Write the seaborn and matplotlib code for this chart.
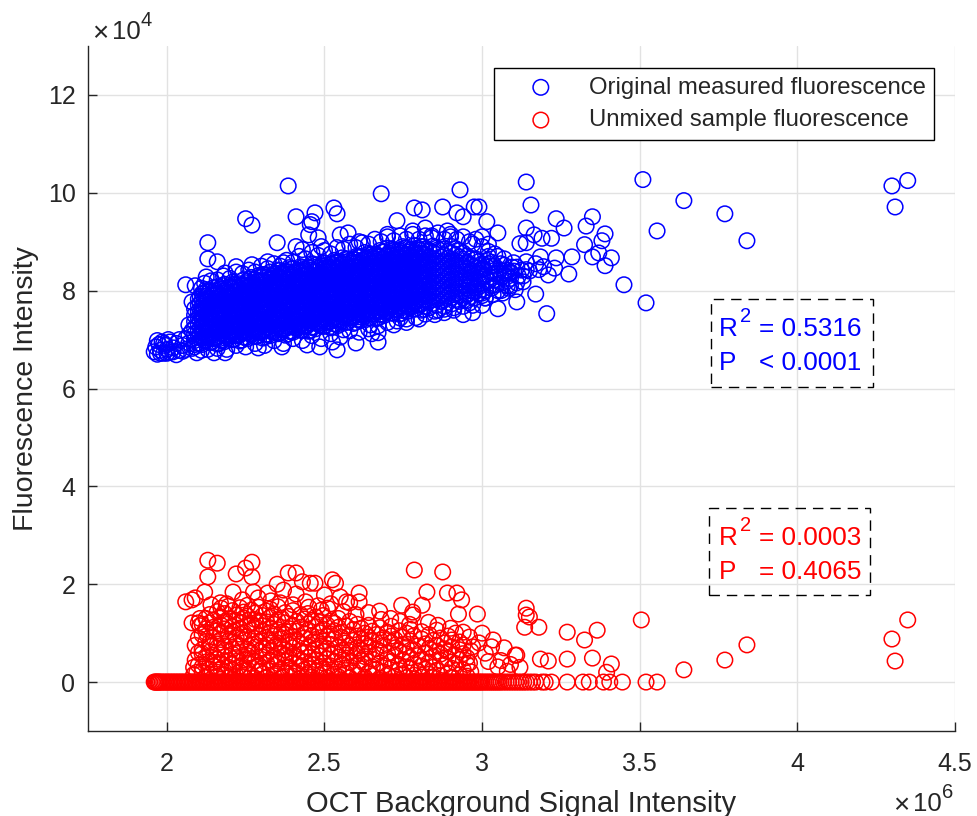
import matplotlib
matplotlib.use("Agg")
import matplotlib.pyplot as plt
import seaborn as sns
from matplotlib.patches import Rectangle

# x in units of 1e6, y in units of 1e4
blue_sparse_x = [
    4.35, 4.30, 4.31, 3.84, 3.77, 3.64, 3.51, 3.555, 3.52, 3.45,
    3.14, 3.155, 3.235, 3.26, 3.35, 3.33, 3.39, 3.38, 3.325, 3.37,
    3.35, 3.41, 3.39, 3.285, 3.235, 3.275, 3.205, 3.17, 3.11, 3.05,
    3.14, 3.165, 3.19, 3.22, 3.12, 3.14, 3.185, 3.195, 3.21, 3.23,
    3.18, 3.14, 3.14, 3.10, 3.09, 3.11, 3.13, 3.06, 3.015, 3.05,
    2.99, 2.385, 2.68, 2.93, 2.25, 2.27, 2.13, 2.13, 2.16, 2.53,
    2.54, 2.47, 2.41, 2.46, 2.455, 2.785, 2.81, 2.875, 2.975, 2.92,
    2.94, 2.73, 2.82, 2.89, 2.35, 2.45, 2.575, 2.55, 2.61, 2.41,
    2.43, 2.48, 2.49, 2.06, 2.09, 2.125, 2.22, 2.27, 2.32, 2.37,
    2.185, 2.60, 2.67, 2.67, 2.54, 2.485, 2.445, 2.525, 2.365, 2.29,
    2.185, 2.15, 2.095, 2.03, 2.94, 2.97, 2.88, 2.85, 2.74, 2.645,
    2.56, 2.08, 2.07, 2.95, 2.96, 2.97, 2.98, 3.00, 3.01, 3.02,
    3.03, 3.04, 3.06, 3.07, 3.08, 2.96, 2.98, 3.00, 3.02, 3.04,
    2.95, 2.97, 2.99, 3.01, 3.03, 3.05, 3.07, 3.09, 3.00, 3.02,
    2.65, 2.72, 2.76, 2.80, 2.86, 2.91, 2.70, 2.78, 2.84, 2.90,
    1.96, 1.965, 1.97, 1.975, 1.98, 1.985, 1.99, 1.995, 2.00, 2.005,
    2.01, 2.02, 2.03, 2.04, 2.05, 2.06, 2.07, 2.08, 1.97, 1.98,
    1.99, 2.00, 2.01, 2.02, 2.04, 2.05, 2.06, 2.07, 2.08, 2.09,
]
blue_sparse_y = [
    10.25, 10.14, 9.71, 9.02, 9.57, 9.84, 10.27, 9.22, 7.75, 8.12,
    10.22, 9.75, 9.47, 9.28, 9.51, 9.32, 9.16, 9.02, 8.94, 8.77,
    8.69, 8.67, 8.51, 8.69, 8.67, 8.34, 7.53, 7.93, 7.77, 7.63,
    9.28, 9.14, 9.07, 9.07, 8.96, 8.98, 8.69, 8.49, 8.32, 8.46,
    8.43, 8.59, 8.43, 8.57, 8.36, 8.16, 8.18, 8.28, 9.41, 9.18,
    9.71, 10.14, 9.98, 10.06, 9.47, 9.34, 8.98, 8.65, 8.59, 9.69,
    9.57, 9.59, 9.51, 9.41, 9.35, 9.69, 9.65, 9.71, 9.71, 9.59,
    9.51, 9.43, 9.28, 9.22, 8.98, 9.14, 9.18, 9.14, 9.00, 8.90,
    8.84, 9.08, 8.90, 8.12, 8.10, 8.28, 8.49, 8.53, 8.59, 8.57,
    8.36, 6.93, 6.95, 7.14, 6.79, 6.85, 6.89, 6.95, 6.85, 6.83,
    6.73, 6.73, 6.73, 6.69, 7.51, 7.55, 7.55, 7.51, 7.44, 7.30,
    7.20, 7.77, 7.30, 7.90, 8.15, 8.40, 8.65, 7.95, 8.30, 8.55,
    8.05, 8.75, 8.00, 8.40, 8.20, 7.75, 8.05, 8.45, 8.80, 8.35,
    8.55, 8.95, 8.20, 7.85, 8.50, 8.70, 8.65, 8.10, 9.10, 8.95,
    7.12, 7.30, 7.35, 7.42, 7.60, 7.65, 9.15, 9.22, 9.12, 9.10,
    6.75, 6.85, 6.70, 6.90, 6.78, 6.95, 6.72, 6.88, 6.80, 7.00,
    6.74, 6.83, 6.92, 6.78, 6.88, 6.80, 6.93, 6.82, 6.98, 6.72,
    6.92, 6.72, 6.95, 6.75, 7.00, 6.76, 7.02, 7.10, 7.18, 6.90,
]
blue_edge_x = [
    2.11, 2.12, 2.14, 2.16, 2.18, 2.20, 2.22, 2.24, 2.26, 2.28, 2.30, 2.32, 2.34, 2.36, 2.38, 2.40,
    2.42, 2.44, 2.46, 2.48, 2.50, 2.52, 2.54, 2.56, 2.58, 2.60, 2.62, 2.64, 2.66, 2.68, 2.70, 2.72,
    2.74, 2.76, 2.78, 2.80, 2.82, 2.84, 2.86, 2.88, 2.90, 2.92, 2.94, 2.96, 2.98, 3.00,
    2.11, 2.13, 2.16, 2.19, 2.22, 2.25, 2.28, 2.31, 2.34, 2.37, 2.40, 2.43, 2.46, 2.49, 2.52, 2.55,
    2.58, 2.61, 2.64, 2.67, 2.70, 2.73, 2.76, 2.79, 2.82, 2.85, 2.88, 2.91, 2.94, 2.97, 3.00,
    3.01, 3.02, 3.03, 3.04, 3.05, 3.06, 3.07, 3.08, 3.09, 3.10, 3.04, 3.06,
    3.005, 3.015, 3.025, 3.035, 3.045, 3.055, 3.065, 3.075, 3.085, 3.095, 3.105, 3.115, 3.125,
    3.01, 3.03, 3.05, 3.07, 3.09, 3.11, 3.13, 3.15, 3.17, 3.02, 3.04, 3.08,
]
blue_edge_y = [
    8.05, 8.15, 8.20, 8.22, 8.30, 8.25, 8.38, 8.35, 8.42, 8.38, 8.50, 8.45, 8.55, 8.50, 8.62, 8.58,
    8.70, 8.65, 8.78, 8.72, 8.82, 8.75, 8.88, 8.85, 8.95, 8.88, 8.98, 8.95, 9.05, 9.00, 9.10, 9.02,
    9.12, 9.05, 9.15, 9.05, 9.12, 9.08, 9.18, 9.05, 9.15, 9.05, 9.10, 9.00, 9.05, 8.90,
    6.78, 6.80, 6.82, 6.80, 6.88, 6.85, 6.92, 6.88, 6.98, 6.92, 7.02, 6.98, 7.08, 7.02, 7.12, 7.05,
    7.18, 7.15, 7.22, 7.28, 7.35, 7.38, 7.42, 7.45, 7.52, 7.58, 7.62, 7.60, 7.68, 7.70, 7.70,
    8.00, 8.20, 8.10, 8.35, 8.00, 8.15, 8.30, 8.10, 8.25, 8.40, 8.50, 8.55,
    8.45, 8.62, 8.28, 7.92, 8.12, 8.42, 7.95, 8.36, 8.05, 8.48, 8.02, 8.30, 8.42,
    7.85, 8.58, 8.35, 8.52, 8.38, 8.48, 8.30, 8.40, 8.55, 8.70, 8.22, 8.42,
]

# dense band: one x per column, the y values read in that column
blue_col_x = [
    2.088, 2.100, 2.112, 2.124, 2.136, 2.148, 2.160, 2.172, 2.184, 2.196, 2.208, 2.220, 2.232,
    2.244, 2.256, 2.268, 2.280, 2.292, 2.304, 2.316, 2.328, 2.340, 2.352, 2.364, 2.376, 2.388,
    2.400, 2.412, 2.424, 2.436, 2.448, 2.460, 2.472, 2.484, 2.496, 2.508, 2.520, 2.532, 2.544,
    2.556, 2.568, 2.580, 2.592, 2.604, 2.616, 2.628, 2.640, 2.652, 2.664, 2.676, 2.688, 2.700,
    2.712, 2.724, 2.736, 2.748, 2.760, 2.772, 2.784, 2.796, 2.808, 2.820, 2.832, 2.844, 2.856,
    2.868, 2.880, 2.892, 2.904, 2.916, 2.928, 2.940, 2.952, 2.964, 2.976, 2.988, 3.000,
]
blue_col_y = [
    [6.85, 6.98, 7.11, 7.24, 7.37, 7.50, 7.63],
    [6.92, 7.05, 7.18, 7.31, 7.44, 7.57, 7.70, 7.83],
    [6.90, 7.03, 7.16, 7.29, 7.42, 7.55, 7.68, 7.81, 7.94],
    [6.98, 7.11, 7.24, 7.37, 7.50, 7.63, 7.76, 7.89, 8.02],
    [6.94, 7.07, 7.20, 7.33, 7.46, 7.59, 7.72, 7.85, 7.98],
    [7.02, 7.15, 7.28, 7.41, 7.54, 7.67, 7.80, 7.93, 8.06],
    [6.91, 7.04, 7.17, 7.30, 7.43, 7.56, 7.69, 7.82, 7.95, 8.08],
    [6.99, 7.12, 7.25, 7.38, 7.51, 7.64, 7.77, 7.90, 8.03],
    [6.96, 7.09, 7.22, 7.35, 7.48, 7.61, 7.74, 7.87, 8.00, 8.13],
    [7.04, 7.17, 7.30, 7.43, 7.56, 7.69, 7.82, 7.95, 8.08],
    [7.00, 7.13, 7.26, 7.39, 7.52, 7.65, 7.78, 7.91, 8.04, 8.17],
    [7.08, 7.21, 7.34, 7.47, 7.60, 7.73, 7.86, 7.99, 8.12],
    [6.97, 7.10, 7.23, 7.36, 7.49, 7.62, 7.75, 7.88, 8.01, 8.14],
    [7.05, 7.18, 7.31, 7.44, 7.57, 7.70, 7.83, 7.96, 8.09, 8.22],
    [7.02, 7.15, 7.28, 7.41, 7.54, 7.67, 7.80, 7.93, 8.06, 8.19],
    [7.10, 7.23, 7.36, 7.49, 7.62, 7.75, 7.88, 8.01, 8.14, 8.27],
    [7.06, 7.19, 7.32, 7.45, 7.58, 7.71, 7.84, 7.97, 8.10, 8.23],
    [7.14, 7.27, 7.40, 7.53, 7.66, 7.79, 7.92, 8.05, 8.18, 8.31],
    [7.03, 7.16, 7.29, 7.42, 7.55, 7.68, 7.81, 7.94, 8.07, 8.20, 8.33],
    [7.11, 7.24, 7.37, 7.50, 7.63, 7.76, 7.89, 8.02, 8.15, 8.28],
    [7.08, 7.21, 7.34, 7.47, 7.60, 7.73, 7.86, 7.99, 8.12, 8.25, 8.38],
    [7.16, 7.29, 7.42, 7.55, 7.68, 7.81, 7.94, 8.07, 8.20, 8.33],
    [7.12, 7.25, 7.38, 7.51, 7.64, 7.77, 7.90, 8.03, 8.16, 8.29, 8.42],
    [7.20, 7.33, 7.46, 7.59, 7.72, 7.85, 7.98, 8.11, 8.24, 8.37],
    [7.09, 7.22, 7.35, 7.48, 7.61, 7.74, 7.87, 8.00, 8.13, 8.26, 8.39],
    [7.17, 7.30, 7.43, 7.56, 7.69, 7.82, 7.95, 8.08, 8.21, 8.34, 8.47],
    [7.15, 7.28, 7.41, 7.54, 7.67, 7.80, 7.93, 8.06, 8.19, 8.32, 8.45],
    [7.23, 7.36, 7.49, 7.62, 7.75, 7.88, 8.01, 8.14, 8.27, 8.40],
    [7.19, 7.32, 7.45, 7.58, 7.71, 7.84, 7.97, 8.10, 8.23, 8.36, 8.49],
    [7.27, 7.40, 7.53, 7.66, 7.79, 7.92, 8.05, 8.18, 8.31, 8.44],
    [7.17, 7.30, 7.43, 7.56, 7.69, 7.82, 7.95, 8.08, 8.21, 8.34, 8.47],
    [7.25, 7.38, 7.51, 7.64, 7.77, 7.90, 8.03, 8.16, 8.29, 8.42, 8.55],
    [7.22, 7.35, 7.48, 7.61, 7.74, 7.87, 8.00, 8.13, 8.26, 8.39, 8.52],
    [7.30, 7.43, 7.56, 7.69, 7.82, 7.95, 8.08, 8.21, 8.34, 8.47],
    [7.27, 7.40, 7.53, 7.66, 7.79, 7.92, 8.05, 8.18, 8.31, 8.44, 8.57],
    [7.35, 7.48, 7.61, 7.74, 7.87, 8.00, 8.13, 8.26, 8.39, 8.52],
    [7.24, 7.37, 7.50, 7.63, 7.76, 7.89, 8.02, 8.15, 8.28, 8.41, 8.54],
    [7.32, 7.45, 7.58, 7.71, 7.84, 7.97, 8.10, 8.23, 8.36, 8.49, 8.62],
    [7.29, 7.42, 7.55, 7.68, 7.81, 7.94, 8.07, 8.20, 8.33, 8.46, 8.59],
    [7.37, 7.50, 7.63, 7.76, 7.89, 8.02, 8.15, 8.28, 8.41, 8.54, 8.67],
    [7.35, 7.48, 7.61, 7.74, 7.87, 8.00, 8.13, 8.26, 8.39, 8.52, 8.65],
    [7.44, 7.57, 7.70, 7.83, 7.96, 8.09, 8.22, 8.35, 8.48, 8.61],
    [7.33, 7.46, 7.59, 7.72, 7.85, 7.98, 8.11, 8.24, 8.37, 8.50, 8.63],
    [7.41, 7.54, 7.67, 7.80, 7.93, 8.06, 8.19, 8.32, 8.45, 8.58, 8.71],
    [7.39, 7.52, 7.65, 7.78, 7.91, 8.04, 8.17, 8.30, 8.43, 8.56, 8.69],
    [7.48, 7.61, 7.74, 7.87, 8.00, 8.13, 8.26, 8.39, 8.52, 8.65, 8.78],
    [7.44, 7.57, 7.70, 7.83, 7.96, 8.09, 8.22, 8.35, 8.48, 8.61, 8.74],
    [7.53, 7.66, 7.79, 7.92, 8.05, 8.18, 8.31, 8.44, 8.57, 8.70],
    [7.43, 7.56, 7.69, 7.82, 7.95, 8.08, 8.21, 8.34, 8.47, 8.60, 8.73],
    [7.52, 7.65, 7.78, 7.91, 8.04, 8.17, 8.30, 8.43, 8.56, 8.69, 8.82],
    [7.49, 7.62, 7.75, 7.88, 8.01, 8.14, 8.27, 8.40, 8.53, 8.66, 8.79],
    [7.57, 7.70, 7.83, 7.96, 8.09, 8.22, 8.35, 8.48, 8.61, 8.74, 8.87],
    [7.54, 7.67, 7.80, 7.93, 8.06, 8.19, 8.32, 8.45, 8.58, 8.71, 8.84],
    [7.62, 7.75, 7.88, 8.01, 8.14, 8.27, 8.40, 8.53, 8.66, 8.79],
    [7.52, 7.65, 7.78, 7.91, 8.04, 8.17, 8.30, 8.43, 8.56, 8.69, 8.82],
    [7.60, 7.73, 7.86, 7.99, 8.12, 8.25, 8.38, 8.51, 8.64, 8.77, 8.90],
    [7.57, 7.70, 7.83, 7.96, 8.09, 8.22, 8.35, 8.48, 8.61, 8.74, 8.87],
    [7.66, 7.79, 7.92, 8.05, 8.18, 8.31, 8.44, 8.57, 8.70, 8.83],
    [7.62, 7.75, 7.88, 8.01, 8.14, 8.27, 8.40, 8.53, 8.66, 8.79, 8.92],
    [7.70, 7.83, 7.96, 8.09, 8.22, 8.35, 8.48, 8.61, 8.74, 8.87],
    [7.60, 7.73, 7.86, 7.99, 8.12, 8.25, 8.38, 8.51, 8.64, 8.77, 8.90],
    [7.68, 7.81, 7.94, 8.07, 8.20, 8.33, 8.46, 8.59, 8.72, 8.85],
    [7.65, 7.78, 7.91, 8.04, 8.17, 8.30, 8.43, 8.56, 8.69, 8.82],
    [7.74, 7.87, 8.00, 8.13, 8.26, 8.39, 8.52, 8.65, 8.78, 8.91],
    [7.70, 7.83, 7.96, 8.09, 8.22, 8.35, 8.48, 8.61, 8.74, 8.87],
    [7.78, 7.91, 8.04, 8.17, 8.30, 8.43, 8.56, 8.69, 8.82],
    [7.68, 7.81, 7.94, 8.07, 8.20, 8.33, 8.46, 8.59, 8.72, 8.85],
    [7.76, 7.89, 8.02, 8.15, 8.28, 8.41, 8.54, 8.67, 8.80],
    [7.73, 7.86, 7.99, 8.12, 8.25, 8.38, 8.51, 8.64, 8.77, 8.90],
    [7.82, 7.95, 8.08, 8.21, 8.34, 8.47, 8.60, 8.73, 8.86],
    [7.78, 7.91, 8.04, 8.17, 8.30, 8.43, 8.56, 8.69, 8.82],
    [7.86, 7.99, 8.12, 8.25, 8.38, 8.51, 8.64, 8.77],
    [7.80, 7.93, 8.06, 8.19, 8.32, 8.45, 8.58, 8.71],
    [7.88, 8.01, 8.14, 8.27, 8.40, 8.53, 8.66],
    [7.85, 7.98, 8.11, 8.24, 8.37, 8.50, 8.63],
    [7.94, 8.07, 8.20, 8.33, 8.46, 8.59],
    [7.90, 8.03, 8.16, 8.29, 8.42, 8.55],
]
# second pass through the band, between the columns above
blue_mid_x = [
    2.106, 2.118, 2.130, 2.142, 2.154, 2.166, 2.178, 2.190, 2.202, 2.214, 2.226, 2.238,
    2.250, 2.262, 2.274, 2.286, 2.298, 2.310, 2.322, 2.334, 2.346, 2.358, 2.370, 2.382,
    2.394, 2.406, 2.418, 2.430, 2.442, 2.454, 2.466, 2.478, 2.490, 2.502, 2.514, 2.526,
    2.538, 2.550, 2.562, 2.574, 2.586, 2.598, 2.610, 2.622, 2.634, 2.646, 2.658, 2.670,
    2.682, 2.694, 2.706, 2.718, 2.730, 2.742, 2.754, 2.766, 2.778, 2.790, 2.802, 2.814,
]
blue_mid_y = [
    [6.92, 7.08, 7.24, 7.40, 7.56, 7.72, 7.88],
    [6.99, 7.15, 7.31, 7.47, 7.63, 7.79, 7.95],
    [7.04, 7.20, 7.36, 7.52, 7.68, 7.84, 8.00],
    [6.95, 7.11, 7.27, 7.43, 7.59, 7.75, 7.91],
    [7.03, 7.19, 7.35, 7.51, 7.67, 7.83, 7.99],
    [6.92, 7.08, 7.24, 7.40, 7.56, 7.72, 7.88, 8.04],
    [6.98, 7.14, 7.30, 7.46, 7.62, 7.78, 7.94, 8.10],
    [7.06, 7.22, 7.38, 7.54, 7.70, 7.86, 8.02],
    [7.11, 7.27, 7.43, 7.59, 7.75, 7.91, 8.07],
    [7.01, 7.17, 7.33, 7.49, 7.65, 7.81, 7.97, 8.13],
    [7.09, 7.25, 7.41, 7.57, 7.73, 7.89, 8.05],
    [6.99, 7.15, 7.31, 7.47, 7.63, 7.79, 7.95, 8.11],
    [7.04, 7.20, 7.36, 7.52, 7.68, 7.84, 8.00, 8.16],
    [7.12, 7.28, 7.44, 7.60, 7.76, 7.92, 8.08, 8.24],
    [7.17, 7.33, 7.49, 7.65, 7.81, 7.97, 8.13],
    [7.07, 7.23, 7.39, 7.55, 7.71, 7.87, 8.03, 8.19],
    [7.15, 7.31, 7.47, 7.63, 7.79, 7.95, 8.11, 8.27],
    [7.05, 7.21, 7.37, 7.53, 7.69, 7.85, 8.01, 8.17, 8.33],
    [7.10, 7.26, 7.42, 7.58, 7.74, 7.90, 8.06, 8.22],
    [7.18, 7.34, 7.50, 7.66, 7.82, 7.98, 8.14, 8.30],
    [7.23, 7.39, 7.55, 7.71, 7.87, 8.03, 8.19, 8.35],
    [7.13, 7.29, 7.45, 7.61, 7.77, 7.93, 8.09, 8.25, 8.41],
    [7.21, 7.37, 7.53, 7.69, 7.85, 8.01, 8.17, 8.33],
    [7.11, 7.27, 7.43, 7.59, 7.75, 7.91, 8.07, 8.23, 8.39],
    [7.16, 7.32, 7.48, 7.64, 7.80, 7.96, 8.12, 8.28, 8.44],
    [7.24, 7.40, 7.56, 7.72, 7.88, 8.04, 8.20, 8.36],
    [7.29, 7.45, 7.61, 7.77, 7.93, 8.09, 8.25, 8.41],
    [7.19, 7.35, 7.51, 7.67, 7.83, 7.99, 8.15, 8.31, 8.47],
    [7.27, 7.43, 7.59, 7.75, 7.91, 8.07, 8.23, 8.39],
    [7.18, 7.34, 7.50, 7.66, 7.82, 7.98, 8.14, 8.30, 8.46],
    [7.26, 7.42, 7.58, 7.74, 7.90, 8.06, 8.22, 8.38, 8.54],
    [7.33, 7.49, 7.65, 7.81, 7.97, 8.13, 8.29, 8.45],
    [7.38, 7.54, 7.70, 7.86, 8.02, 8.18, 8.34, 8.50],
    [7.28, 7.44, 7.60, 7.76, 7.92, 8.08, 8.24, 8.40, 8.56],
    [7.36, 7.52, 7.68, 7.84, 8.00, 8.16, 8.32, 8.48],
    [7.26, 7.42, 7.58, 7.74, 7.90, 8.06, 8.22, 8.38, 8.54],
    [7.31, 7.47, 7.63, 7.79, 7.95, 8.11, 8.27, 8.43, 8.59],
    [7.39, 7.55, 7.71, 7.87, 8.03, 8.19, 8.35, 8.51],
    [7.46, 7.62, 7.78, 7.94, 8.10, 8.26, 8.42, 8.58],
    [7.36, 7.52, 7.68, 7.84, 8.00, 8.16, 8.32, 8.48, 8.64],
    [7.44, 7.60, 7.76, 7.92, 8.08, 8.24, 8.40, 8.56],
    [7.35, 7.51, 7.67, 7.83, 7.99, 8.15, 8.31, 8.47, 8.63],
    [7.41, 7.57, 7.73, 7.89, 8.05, 8.21, 8.37, 8.53, 8.69],
    [7.49, 7.65, 7.81, 7.97, 8.13, 8.29, 8.45, 8.61],
    [7.55, 7.71, 7.87, 8.03, 8.19, 8.35, 8.51, 8.67],
    [7.45, 7.61, 7.77, 7.93, 8.09, 8.25, 8.41, 8.57, 8.73],
    [7.53, 7.69, 7.85, 8.01, 8.17, 8.33, 8.49, 8.65],
    [7.44, 7.60, 7.76, 7.92, 8.08, 8.24, 8.40, 8.56, 8.72],
    [7.51, 7.67, 7.83, 7.99, 8.15, 8.31, 8.47, 8.63, 8.79],
    [7.58, 7.74, 7.90, 8.06, 8.22, 8.38, 8.54, 8.70],
    [7.64, 7.80, 7.96, 8.12, 8.28, 8.44, 8.60, 8.76],
    [7.54, 7.70, 7.86, 8.02, 8.18, 8.34, 8.50, 8.66, 8.82],
    [7.62, 7.78, 7.94, 8.10, 8.26, 8.42, 8.58, 8.74],
    [7.53, 7.69, 7.85, 8.01, 8.17, 8.33, 8.49, 8.65, 8.81],
    [7.59, 7.75, 7.91, 8.07, 8.23, 8.39, 8.55, 8.71, 8.87],
    [7.67, 7.83, 7.99, 8.15, 8.31, 8.47, 8.63, 8.79],
    [7.73, 7.89, 8.05, 8.21, 8.37, 8.53, 8.69, 8.85],
    [7.63, 7.79, 7.95, 8.11, 8.27, 8.43, 8.59, 8.75],
    [7.71, 7.87, 8.03, 8.19, 8.35, 8.51, 8.67, 8.83],
    [7.62, 7.78, 7.94, 8.10, 8.26, 8.42, 8.58, 8.74, 8.90],
]

red_sparse_x = [
    2.13, 2.16, 2.13, 2.27, 2.25, 2.22, 2.27, 2.12, 2.06, 2.09,
    2.08, 2.21, 2.275, 2.32, 2.385, 2.41, 2.35, 2.37, 2.43, 2.455,
    2.47, 2.525, 2.535, 2.41, 2.785, 2.875, 2.825, 2.89, 2.92, 2.935,
    2.81, 2.745, 2.61, 2.61, 2.925, 2.985, 2.78, 2.78, 2.675, 2.50,
    2.55, 2.57, 2.58, 2.45, 2.49, 2.51, 3.14, 3.14, 3.135, 2.08,
    2.10, 3.00, 3.035, 3.07, 3.11, 2.96, 3.01, 3.05, 2.96, 3.505,
    3.27, 3.325, 3.365, 3.35, 3.41, 3.27, 3.185, 3.21, 3.64, 3.77,
    3.84, 4.30, 4.35, 4.31, 3.15, 3.18, 3.105, 3.395,
    2.085, 2.09, 2.095, 2.10, 2.10, 2.085, 2.09, 2.10, 2.105, 2.105,
    2.14, 2.17, 2.19, 2.24, 2.29, 2.33, 2.36, 2.40, 2.44, 2.48,
    2.52, 2.56, 2.60, 2.64, 2.68, 2.71, 2.74, 2.77, 2.83, 2.86,
    2.90, 2.94, 2.97, 2.99, 3.02, 3.03, 3.06, 3.08, 3.09, 3.12,
]
red_sparse_y = [
    2.49, 2.43, 2.15, 2.45, 2.33, 2.21, 2.15, 1.84, 1.64, 1.72,
    1.68, 1.84, 1.84, 1.82, 2.23, 2.23, 2.00, 1.88, 2.05, 2.02,
    2.02, 2.09, 2.02, 1.80, 2.29, 2.25, 1.84, 1.82, 1.82, 1.68,
    1.57, 1.57, 1.82, 1.64, 1.39, 1.39, 1.43, 1.37, 1.45, 1.78,
    1.74, 1.64, 1.62, 1.53, 1.47, 1.51, 1.51, 1.37, 1.12, 1.21,
    1.21, 1.00, 0.86, 0.70, 0.55, 0.92, 0.59, 0.31, 0.39, 1.27,
    1.02, 0.86, 1.06, 0.49, 0.37, 0.47, 0.47, 0.43, 0.25, 0.45,
    0.76, 0.88, 1.27, 0.43, 1.33, 1.12, 0.55, 0.20,
    0.30, 0.45, 0.20, 0.60, 0.35, 0.15, 0.75, 0.90, 1.15, 1.30,
    1.58, 1.62, 1.60, 1.68, 1.72, 1.66, 1.62, 1.58, 1.64, 1.56,
    1.60, 1.44, 1.38, 1.42, 1.28, 1.30, 1.24, 1.18, 1.22, 1.16,
    1.10, 1.02, 0.72, 0.80, 0.42, 0.72, 0.44, 0.22, 0.36, 0.30,
]

red_col_x = [
    2.112, 2.124, 2.136, 2.148, 2.160, 2.172, 2.184, 2.196, 2.208, 2.220, 2.232, 2.244,
    2.256, 2.268, 2.280, 2.292, 2.304, 2.316, 2.328, 2.340, 2.352, 2.364, 2.376, 2.388,
    2.400, 2.412, 2.424, 2.436, 2.448, 2.460, 2.472, 2.484, 2.496, 2.508, 2.520, 2.532,
    2.544, 2.556, 2.568, 2.580, 2.592, 2.604, 2.616, 2.628, 2.640, 2.652, 2.664, 2.676,
    2.688, 2.700, 2.712, 2.724, 2.736, 2.748, 2.760, 2.772, 2.784, 2.796, 2.808, 2.820,
    2.832, 2.844, 2.856, 2.868, 2.880, 2.892, 2.904, 2.916, 2.928, 2.940, 2.952, 2.964,
]
red_col_y = [
    [0.22, 0.31, 0.58, 0.66, 0.97, 1.18],
    [0.10, 0.41, 0.49, 0.83, 1.02, 1.09, 1.30],
    [0.16, 0.27, 0.62, 0.75, 0.81, 1.21, 1.38],
    [0.33, 0.40, 0.55, 0.92, 1.12, 1.27],
    [0.12, 0.20, 0.47, 0.70, 0.78, 1.05, 1.44],
    [0.26, 0.37, 0.60, 0.87, 0.99, 1.16, 1.33, 1.51],
    [0.15, 0.52, 0.65, 0.73, 1.08, 1.24, 1.40],
    [0.09, 0.30, 0.44, 0.84, 0.95, 1.19, 1.29, 1.55],
    [0.24, 0.36, 0.57, 0.68, 1.03, 1.13, 1.46],
    [0.13, 0.42, 0.50, 0.79, 0.90, 1.26, 1.37],
    [0.20, 0.33, 0.61, 0.74, 0.98, 1.10, 1.22, 1.52],
    [0.11, 0.28, 0.46, 0.86, 1.01, 1.31, 1.43],
    [0.25, 0.39, 0.54, 0.67, 0.93, 1.17, 1.35, 1.57],
    [0.14, 0.48, 0.59, 0.77, 1.06, 1.20, 1.47],
    [0.08, 0.31, 0.43, 0.71, 0.89, 1.14, 1.28, 1.41],
    [0.22, 0.35, 0.63, 0.82, 0.96, 1.25, 1.53],
    [0.17, 0.29, 0.51, 0.69, 1.04, 1.15, 1.36],
    [0.10, 0.40, 0.56, 0.76, 0.91, 1.23, 1.45],
    [0.27, 0.45, 0.64, 0.85, 1.00, 1.11, 1.32, 1.49],
    [0.13, 0.34, 0.53, 0.72, 0.94, 1.18, 1.39],
    [0.21, 0.38, 0.47, 0.80, 1.07, 1.27, 1.54],
    [0.09, 0.26, 0.60, 0.73, 0.88, 1.02, 1.30],
    [0.18, 0.42, 0.55, 0.66, 0.97, 1.21, 1.42],
    [0.30, 0.49, 0.75, 0.83, 1.09, 1.34],
    [0.12, 0.23, 0.57, 0.70, 0.92, 1.16, 1.46],
    [0.19, 0.37, 0.52, 0.86, 1.04, 1.24],
    [0.08, 0.32, 0.44, 0.64, 0.78, 1.12, 1.38],
    [0.25, 0.41, 0.61, 0.90, 0.99, 1.29],
    [0.15, 0.28, 0.50, 0.72, 1.06, 1.19, 1.40],
    [0.10, 0.35, 0.58, 0.81, 0.95, 1.26],
    [0.22, 0.46, 0.67, 0.87, 1.13, 1.33],
    [0.14, 0.30, 0.54, 0.74, 1.01, 1.22],
    [0.27, 0.39, 0.63, 0.84, 1.08, 1.36],
    [0.09, 0.20, 0.48, 0.69, 0.93, 1.17],
    [0.33, 0.56, 0.77, 0.98, 1.25],
    [0.16, 0.42, 0.60, 0.88, 1.05, 1.20],
    [0.11, 0.26, 0.51, 0.71, 1.12, 1.30],
    [0.36, 0.45, 0.65, 0.91, 1.02],
    [0.18, 0.29, 0.55, 0.80, 1.15],
    [0.09, 0.40, 0.62, 0.74, 0.96, 1.24],
    [0.23, 0.50, 0.85, 1.07],
    [0.14, 0.33, 0.58, 0.70, 0.94, 1.18],
    [0.27, 0.44, 0.66, 0.89, 1.10],
    [0.10, 0.37, 0.52, 0.78, 1.00],
    [0.20, 0.60, 0.73, 0.92, 1.16],
    [0.13, 0.31, 0.47, 0.83, 1.04],
    [0.26, 0.56, 0.68, 0.97],
    [0.08, 0.39, 0.63, 0.86, 1.11],
    [0.21, 0.34, 0.75, 0.90],
    [0.15, 0.48, 0.59, 1.02],
    [0.29, 0.42, 0.81, 0.94, 1.14],
    [0.11, 0.55, 0.70, 0.87],
    [0.24, 0.36, 0.64, 1.05],
    [0.17, 0.45, 0.77, 0.92],
    [0.09, 0.31, 0.58, 0.72, 1.00],
    [0.28, 0.50, 0.84, 1.08],
    [0.14, 0.38, 0.66, 0.95],
    [0.22, 0.54, 0.74],
    [0.10, 0.33, 0.46, 0.88, 1.03],
    [0.26, 0.60, 0.78],
    [0.16, 0.41, 0.69, 0.97],
    [0.09, 0.30, 0.52, 0.85],
    [0.24, 0.63, 0.75, 1.06],
    [0.13, 0.44, 0.57, 0.90],
    [0.34, 0.68, 0.80],
    [0.19, 0.48, 0.62, 0.94],
    [0.10, 0.28, 0.72, 0.86],
    [0.38, 0.55, 1.00],
    [0.15, 0.46, 0.66, 0.82],
    [0.25, 0.58, 0.76],
    [0.12, 0.36, 0.50],
    [0.21, 0.64],
]
red_zero_x = [
    1.960, 1.963, 1.966, 1.970, 1.973, 1.976, 1.980, 1.985, 1.990, 1.995,
    2.000, 2.005, 2.010, 2.015, 2.020, 2.025, 2.030, 2.035, 2.040, 2.045,
    2.050, 2.055, 2.060, 2.065, 2.070, 2.075, 2.080, 2.085, 2.090, 2.095,
    2.100, 2.105, 2.110, 2.115, 2.120, 2.125, 2.130, 2.135, 2.140, 2.145,
    2.150, 2.155, 2.160, 2.165, 2.170, 2.175, 2.180, 2.185, 2.190, 2.195,
    2.200, 2.205, 2.210, 2.215, 2.220, 2.225, 2.230, 2.235, 2.240, 2.245,
    2.250, 2.255, 2.260, 2.265, 2.270, 2.275, 2.280, 2.285, 2.290, 2.295,
    2.300, 2.305, 2.310, 2.315, 2.320, 2.325, 2.330, 2.335, 2.340, 2.345,
    2.350, 2.355, 2.360, 2.365, 2.370, 2.375, 2.380, 2.385, 2.390, 2.395,
    2.400, 2.405, 2.410, 2.415, 2.420, 2.425, 2.430, 2.435, 2.440, 2.445,
    2.450, 2.455, 2.460, 2.465, 2.470, 2.475, 2.480, 2.485, 2.490, 2.495,
    2.500, 2.505, 2.510, 2.515, 2.520, 2.525, 2.530, 2.535, 2.540, 2.545,
    2.550, 2.555, 2.560, 2.565, 2.570, 2.575, 2.580, 2.585, 2.590, 2.595,
    2.600, 2.605, 2.610, 2.615, 2.620, 2.625, 2.630, 2.635, 2.640, 2.645,
    2.650, 2.655, 2.660, 2.665, 2.670, 2.675, 2.680, 2.685, 2.690, 2.695,
    2.700, 2.705, 2.710, 2.715, 2.720, 2.725, 2.730, 2.735, 2.740, 2.745,
    2.750, 2.755, 2.760, 2.765, 2.770, 2.775, 2.780, 2.785, 2.790, 2.795,
    2.800, 2.805, 2.810, 2.815, 2.820, 2.825, 2.830, 2.835, 2.840, 2.845,
    2.850, 2.855, 2.860, 2.865, 2.870, 2.875, 2.880, 2.885, 2.890, 2.895,
    2.900, 2.905, 2.910, 2.915, 2.920, 2.925, 2.930, 2.935, 2.940, 2.945,
    2.950, 2.955, 2.960, 2.965, 2.970, 2.975, 2.980, 2.985, 2.990, 2.995,
    3.000, 3.006, 3.012, 3.018, 3.024, 3.030, 3.036, 3.042, 3.048, 3.054,
    3.060, 3.068, 3.076, 3.084, 3.092, 3.100, 3.108, 3.116, 3.124, 3.132,
    3.140, 3.150, 3.160, 3.170, 3.190, 3.200, 3.220, 3.270, 3.320, 3.340,
    3.385, 3.405, 3.445, 3.520, 3.555,
]
red_zero_y = [0.0] * len(red_zero_x)  # all of these sit on the zero line

x_ticks = [2, 2.5, 3, 3.5, 4, 4.5]
x_tick_labels = ["2", "2.5", "3", "3.5", "4", "4.5"]
y_ticks = [0, 2, 4, 6, 8, 10, 12]

W, H = 978, 816
DARK = "#262626"

sns.set_theme(style="ticks")
plt.rcParams["font.family"] = ["Liberation Sans", "DejaVu Sans"]
plt.rcParams["mathtext.default"] = "regular"
plt.rcParams["text.color"] = DARK


def fx(px):
    return px / W


def fy(py):
    return 1 - py / H


def expand(col_x, col_y):
    xs = [x for x, ys in zip(col_x, col_y) for _ in ys]
    ys = [y for col in col_y for y in col]
    return xs, ys


blue_core_x, blue_core_y = expand(blue_col_x + blue_mid_x, blue_col_y + blue_mid_y)
red_core_x, red_core_y = expand(red_col_x, red_col_y)

fig = plt.figure(figsize=(W / 100, H / 100), dpi=100)
ax = fig.add_axes([fx(88), fy(731), (955 - 88) / W, (731 - 46) / H])

ring = dict(s=125, linewidth=1.1, facecolors="none", marker="o", ax=ax)
sns.scatterplot(x=blue_sparse_x + blue_edge_x + blue_core_x, y=blue_sparse_y + blue_edge_y + blue_core_y,
                edgecolor="#0000ff", label="Original measured fluorescence", **ring)
sns.scatterplot(x=red_sparse_x + red_core_x + red_zero_x, y=red_sparse_y + red_core_y + red_zero_y,
                edgecolor="#ff0000", label="Unmixed sample fluorescence", **ring)

ax.set_xlim(1.75, 4.5)
ax.set_ylim(-1, 13)
ax.set_xticks(x_ticks)
ax.set_xticklabels(x_tick_labels)
ax.set_yticks(y_ticks)
ax.grid(True, color="#e2e2e2", linewidth=1)
ax.set_axisbelow(True)
ax.tick_params(direction="in", length=6.5, width=1, color=DARK, labelcolor=DARK, labelsize=18)
ax.tick_params(axis="x", pad=15)
ax.tick_params(axis="y", pad=9)
for side in ["top", "right"]:
    ax.spines[side].set_visible(False)
for side in ["left", "bottom"]:
    ax.spines[side].set_color(DARK)
    ax.spines[side].set_linewidth(1)
ax.set_xlabel("OCT Background Signal Intensity", fontsize=21, color=DARK, labelpad=10)
ax.set_ylabel("Fluorescence Intensity", fontsize=20.5, color=DARK, labelpad=6)

ax.legend(loc="upper left", bbox_to_anchor=((494 - 88) / 867, (731 - 68) / 685), borderaxespad=0,
          fontsize=17.2, frameon=True, fancybox=False, framealpha=1, edgecolor="black",
          handlelength=3.2, handletextpad=0.4, borderpad=0.36, labelspacing=0.45, scatterpoints=1)

for left, base in [(92, 39), (893, 811)]:
    exp = "4" if left == 92 else "6"
    fig.text(fx(left), fy(base), r"$\times$", fontsize=20, color=DARK, va="baseline")
    fig.text(fx(left + 20), fy(base), "10", fontsize=18.5, color=DARK, va="baseline")
    fig.text(fx(left + 49), fy(base - 13), exp, fontsize=14.5, color=DARK, va="baseline")

# stats boxes, left/top/right/bottom in pixels
for (l, t, r, b), c, lines in [
    ((711, 299, 873, 387), "#0000ff", ("0.5316", "< 0.0001")),
    ((709, 508, 870, 595), "#ff0000", ("0.0003", "= 0.4065")),
]:
    fig.add_artist(Rectangle((fx(l), fy(b)), (r - l) / W, (b - t) / H, transform=fig.transFigure,
                             fill=False, edgecolor="black", linewidth=1, linestyle=(0, (7.5, 5))))
    fig.text(fx(719), fy(t + 37), "R", color=c, fontsize=18.8, va="baseline")
    fig.text(fx(740), fy(t + 23), "2", color=c, fontsize=14.5, va="baseline")
    fig.text(fx(759), fy(t + 37), "= " + lines[0], color=c, fontsize=18.8, va="baseline")
    fig.text(fx(719), fy(t + 71), "P", color=c, fontsize=18.8, va="baseline")
    fig.text(fx(759), fy(t + 71), lines[1], color=c, fontsize=18.8, va="baseline")

fig.savefig("out.png", dpi=100)
